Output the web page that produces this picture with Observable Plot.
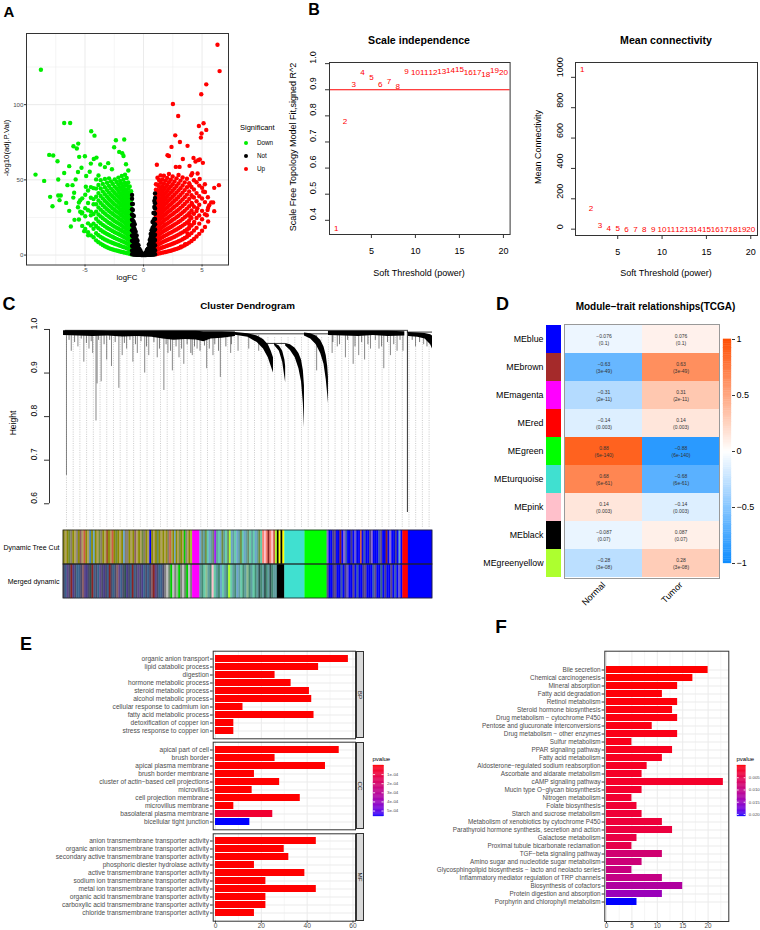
<!DOCTYPE html>
<html><head><meta charset="utf-8">
<script src="https://cdn.jsdelivr.net/npm/d3@7"></script>
<script src="https://cdn.jsdelivr.net/npm/@observablehq/plot@0.6"></script>
<style>
html,body{margin:0;padding:0;background:#fff;}
#root{position:relative;width:760px;height:930px;overflow:hidden;background:#fff;font-family:'Liberation Sans',Arial,Helvetica,sans-serif;}
.lbl{position:absolute;white-space:nowrap;line-height:1;}
</style></head><body><div id="root"></div>
<script>
// ---------------- DATA ----------------
// Panel A: volcano (logFC, -log10 adj.P)
const downOut = [[-8.77,123.2],[-9.23,53.5],[-8.49,49.3],[-8.06,66.6],[-7.72,66.2],[-7.98,38.7],[-7.78,32.5],[-7.35,62.4],[-7.29,50.2],[-7.29,39.6],[-7.07,39.6],[-7.18,36.5],[-6.78,87.8],[-6.27,87.8],[-6.78,54.6],[-6.61,34.7],[-6.35,29.4],[-6.21,19.0],[-6.35,59.1],[-6.5,46.5],[-6.07,46.5],[-5.93,41.4],[-5.99,72.3],[-5.7,70.8],[-5.58,74.1],[-5.5,65.3],[-5.41,36.5],[-5.41,28.8],[-5.27,27.7],[-5.07,15.9],[-4.73,13.1],[-4.93,45.4],[-5.01,65.7],[-4.47,82.3],[-4.19,79.4],[-4.25,63.9],[-4.02,64.8],[-4.5,60.8],[-2.36,76.3],[-3.02,61.1],[-2.51,71.7],[-1.82,67.7],[-1.71,65.9],[-1.65,76.8],[-2.08,68.6],[-5.6,55.2],[-5.3,58.1],[-5.8,50.3],[-4.6,55.4],[-3.7,60.2],[-3.3,58.5],[-2.7,57.1],[-1.3,56.2],[-1.5,60.4],[-5.9,23.4],[-5.6,31.8],[-6.0,38.2],[-4.9,52.6]];
const downCols = [
[-1.06,[0.5,2.6,5.2,7.8,10.4,13.3,16.1,19,21.8,24.9,27.7,30.6,33.4,36.5,39.3,42.4]],
[-1.18,[0.9,3.4,6.3,9.1,12.2,14.9,17.8,20.7,23.6,26.4,29.5,32.3,35.2,38.4,41.7,45.6]],
[-1.31,[1.1,4.2,7.1,10.3,13.1,16.2,19.4,22.1,25.3,28.2,31.1,34.3,37.4,40.6,44.1,48.2]],
[-1.44,[1.4,4.6,7.9,10.8,14.1,17.2,20.2,23.4,26.5,29.3,32.6,35.8,38.7,42.3,46.5,51.2]],
[-1.58,[1.6,5.1,8.3,11.7,14.8,18.1,21.3,24.4,27.6,30.7,33.9,37.1,40.4,43.8,47.9,53.4]],
[-1.72,[1.9,5.4,8.9,12.2,15.6,18.7,22.1,25.3,28.5,31.8,35.1,38.3,41.9,45.6,50.1]],
[-1.86,[2.1,5.8,9.3,12.8,16.2,19.6,22.9,26.3,29.6,32.9,36.4,39.8,43.4,47.3,52.6]],
[-2.0,[2.4,6.2,9.8,13.4,16.8,20.3,23.7,27.1,30.5,34.0,37.5,41.1,44.9,49.2]],
[-2.15,[2.7,6.7,10.3,14.0,17.5,21.1,24.6,28.1,31.6,35.2,38.8,42.6,46.7,51.5]],
[-2.3,[3.0,7.1,10.8,14.6,18.2,21.8,25.4,29.0,32.6,36.3,40.0,44.1,48.6]],
[-2.46,[3.3,7.5,11.4,15.2,18.9,22.6,26.3,30.0,33.7,37.5,41.3,45.5,50.3]],
[-2.62,[3.7,8.0,12.0,15.9,19.7,23.5,27.3,31.0,34.8,38.7,42.7,47.2]],
[-2.78,[4.1,8.5,12.6,16.6,20.5,24.4,28.2,32.1,36.0,40.0,44.2,48.9]],
[-2.95,[4.6,9.1,13.3,17.4,21.4,25.4,29.3,33.3,37.3,41.5,46.0,51.0]],
[-3.12,[5.2,9.7,14.0,18.2,22.3,26.4,30.5,34.6,38.8,43.2,48.1]],
[-3.3,[5.9,10.4,14.8,19.1,23.4,27.6,31.8,36.0,40.4,45.1,50.6]],
[-3.48,[6.7,11.2,15.7,20.1,24.5,28.8,33.2,37.6,42.2,47.3]],
[-3.66,[7.6,12.1,16.7,21.2,25.7,30.2,34.7,39.3,44.3,49.8]],
[-3.85,[8.6,13.2,17.8,22.4,27.0,31.6,36.3,41.2,46.6,52.9]],
[-4.05,[9.8,14.5,19.3,24.1,28.9,33.8,38.8,44.2,50.3]],
[-4.27,[11.8,17.5,20.9,27.3,33.8,37.2,44.5]],
[-4.5,[13.1,19.7,26.4,28.9,38.1,45.2]],
[-4.74,[15.2,21.1,29.8,34.6,42.9]],
[-4.98,[17.3,25.8,31.2,40.1]],
[-5.24,[19.4,28.3,37.7]],
[-5.52,[23.6,34.9]]];
const upOut = [[6.32,139.8],[6.5,122.3],[5.36,113.5],[4.93,106.9],[2.51,100.4],[2.96,92.5],[5.13,87.6],[4.73,85.8],[5.36,83.2],[4.96,80.8],[4.9,78.1],[2.71,79.6],[3.11,75.2],[2.39,71.9],[3.76,72.6],[2.05,66.4],[2.17,65.9],[4.27,64.6],[4.67,63.1],[4.81,63.5],[4.44,62.2],[5.07,61.3],[1.14,60.0],[2.76,58.6],[3.08,58.6],[3.36,63.9],[3.93,59.3],[4.16,54.4],[4.07,53.1],[4.62,54.2],[5.24,47.1],[6.44,46.5],[6.04,44.7],[3.96,46.5],[4.19,38.7],[4.16,33.8],[5.78,35.0],[5.95,35.0],[5.61,33.2],[5.47,29.9],[5.41,26.5],[6.04,29.2],[4.25,27.7],[3.99,25.4],[3.87,17.7],[3.76,14.4],[3.56,7.3],[3.19,5.5],[3.9,20.6],[4.33,22.1],[5.1,42.3],[4.8,50.6],[5.5,38.4],[4.6,31.2]];
const upCols = [
[1.06,[0.5,2.7,5.4,8.2,11.1,13.9,16.8,19.7,22.6,25.5,28.4,31.3,34.2,37.2,40.3,43.5,47.1]],
[1.19,[0.9,3.5,6.4,9.4,12.4,15.4,18.4,21.4,24.4,27.4,30.4,33.5,36.6,39.8,43.1,46.8,51.4]],
[1.32,[1.1,4.1,7.3,10.4,13.5,16.6,19.7,22.8,25.9,29.0,32.1,35.3,38.5,41.9,45.6,49.9]],
[1.46,[1.3,4.6,7.9,11.2,14.4,17.7,20.9,24.1,27.3,30.5,33.7,37.0,40.4,44.0,48.1,53.0]],
[1.6,[1.6,5.0,8.5,11.9,15.3,18.6,21.9,25.2,28.5,31.8,35.1,38.5,42.0,45.8,50.2]],
[1.74,[1.8,5.4,9.0,12.5,16.0,19.4,22.8,26.2,29.6,33.0,36.4,39.9,43.6,47.6,52.7]],
[1.88,[2.0,5.8,9.5,13.1,16.7,20.2,23.7,27.2,30.7,34.2,37.7,41.3,45.2,49.6]],
[2.02,[2.3,6.2,10.0,13.7,17.3,20.9,24.5,28.1,31.7,35.3,38.9,42.6,46.6,51.3]],
[2.17,[2.6,6.6,10.5,14.3,18.0,21.7,25.4,29.1,32.8,36.5,40.2,44.1,48.4,53.9]],
[2.33,[2.9,7.0,11.0,14.9,18.7,22.5,26.3,30.0,33.8,37.6,41.5,45.6,50.1]],
[2.49,[3.3,7.5,11.6,15.6,19.5,23.4,27.2,31.1,34.9,38.8,42.8,47.1,52.2]],
[2.65,[3.7,8.0,12.2,16.3,20.3,24.2,28.2,32.1,36.1,40.1,44.3,48.9]],
[2.82,[4.1,8.6,12.9,17.0,21.1,25.2,29.2,33.2,37.3,41.5,45.9,51.0]],
[2.99,[4.6,9.2,13.6,17.8,22.0,26.1,30.2,34.4,38.6,42.9,47.6,53.2]],
[3.16,[5.1,9.8,14.3,18.7,22.9,27.2,31.4,35.6,40.0,44.5,49.5]],
[3.34,[5.8,10.5,15.1,19.6,24.0,28.3,32.6,37.0,41.5,46.3,51.6]],
[3.52,[6.5,11.3,16.0,20.6,25.1,29.5,34.0,38.5,43.2,48.3]],
[3.71,[7.3,12.2,17.0,21.7,26.3,30.9,35.5,40.2,45.1,50.7]],
[3.9,[8.3,13.3,18.2,23.0,27.8,32.5,37.3,42.3,47.8]],
[4.1,[9.4,14.6,19.7,24.7,29.6,34.6,39.8,45.3]],
[4.31,[10.7,16.3,21.2,27.4,32.1,38.3,43.6,49.7]],
[4.53,[12.3,18.1,24.6,29.3,35.8,41.2,48.4]],
[4.76,[14.1,20.9,26.3,33.5,39.1,46.2]],
[5.0,[16.2,23.8,29.4,37.6,44.8]],
[5.25,[18.7,27.1,35.2,41.9]],
[5.52,[22.3,31.5]]];
const notCols = [
[-0.98,[0.6,3,6,9.5,13,16.5,20,23.5,27,30.5,34,37.5,40]],
[-0.91,[0.5,3,6,9,12.5,16,19.5,23,26.5,30,34]],
[-0.83,[0.4,2.5,5.5,8.5,11.5,15,18.5,22,26]],
[-0.75,[0.3,2,4.5,7.5,10.5,13.5,17,20.5]],
[-0.67,[0.3,1.8,4,6.5,9,12,15.5]],
[-0.59,[0.2,1.5,3.5,5.5,8,10.5,13]],
[-0.51,[0.2,1.3,3,5,7,9.5]],
[-0.43,[0.1,1.1,2.5,4.2,6.5]],
[-0.35,[0.1,0.9,2.2,4]],
[-0.27,[0.1,0.8,1.8,3]],
[-0.19,[0.05,0.6,1.5]],
[-0.11,[0.05,0.5]],
[-0.03,[0.02,0.2]],
[0.05,[0.03,0.3]],
[0.13,[0.05,0.6,1.2]],
[0.21,[0.08,0.8,1.9]],
[0.29,[0.1,1,2.2,3.4]],
[0.37,[0.1,1,2.4,4.2]],
[0.45,[0.15,1.2,2.8,4.6,7]],
[0.53,[0.2,1.4,3.2,5.2,7.6,10]],
[0.61,[0.2,1.6,3.6,6,8.6,11.5,14]],
[0.69,[0.3,2,4.2,6.8,9.6,12.8,16.5]],
[0.77,[0.3,2.2,4.8,7.8,11,14.5,18,22]],
[0.85,[0.4,2.6,5.6,8.8,12,15.5,19,23,28]],
[0.92,[0.5,3,6.2,9.5,13,16.5,20,24,28,32,36]],
[0.98,[0.6,3.2,6.5,10,13.5,17,20.5,24,27.5,31,34.5,38,41]]];
const sigGroups = ["Down","Not","Up"];
const sigColors = ["#00EE00","#000000","#FF0000"];

// Panel B: soft threshold
const powers = [1,2,3,4,5,6,7,8,9,10,11,12,13,14,15,16,17,18,19,20];
const sftR2 = [0.37,0.78,0.922,0.966,0.946,0.922,0.932,0.913,0.972,0.968,0.968,0.968,0.969,0.973,0.979,0.965,0.966,0.96,0.973,0.967];
const meanK = [1055,137,27,8,3,1.6,1.1,0.8,0.6,0.5,0.4,0.35,0.3,0.25,0.2,0.18,0.15,0.13,0.11,0.1];
const sftCut = 0.9;

// Panel C: dendrogram (leaf index 0..1000, height)
const dendroLong = [[8,0.665],[21,0.95],[39,0.96],[55,0.925],[69,0.955],[79,0.945],[88,0.79],[91,0.875],[102,0.88],[117,0.93],[130,0.915],[150,0.865],[159,0.94],[171,0.955],[188,0.925],[200,0.945],[220,0.9],[231,0.94],[254,0.935],[272,0.86],[283,0.945],[295,0.905],[313,0.935],[326,0.92],[349,0.94],[362,0.955],[388,0.91],[405,0.94],[425,0.89],[453,0.945],[473,0.95],[502,0.955],[529,0.95],[686,0.905],[728,0.945],[742,0.96],[764,0.935],[785,0.92],[800,0.94],[816,0.93],[832,0.955],[855,0.955],[868,0.91],[886,0.94],[904,0.95],[920,0.95],[954,0.96],[976,0.965]];
const dendroShort = [[15,0.975],[30,0.97],[48,0.978],[62,0.968],[75,0.972],[95,0.975],[110,0.965],[125,0.975],[140,0.97],[165,0.968],[180,0.975],[195,0.965],[210,0.972],[225,0.96],[245,0.97],[260,0.955],[278,0.965],[290,0.95],[305,0.96],[320,0.955],[335,0.965],[345,0.945],[355,0.96],[370,0.95],[382,0.962],[395,0.955],[410,0.965],[420,0.95],[440,0.96],[455,0.965],[730,0.97],[748,0.965],[770,0.975],[790,0.96],[808,0.97],[825,0.965],[845,0.975],[862,0.96],[878,0.97],[895,0.965],[912,0.975],[945,0.975],[965,0.97],[985,0.96]];
const combLeft = [[0,0.997,0.986],[40,0.997,0.985],[80,0.997,0.984],[120,0.996,0.985],[160,0.996,0.983],[200,0.996,0.984],[240,0.996,0.982],[270,0.996,0.978],[300,0.996,0.975],[330,0.996,0.977],[360,0.996,0.976],[380,0.995,0.972],[400,0.995,0.978],[430,0.995,0.98],[466,0.994,0.984]];
const combRight = [[718,0.996,0.986],[760,0.996,0.985],[800,0.996,0.984],[840,0.996,0.986],[880,0.996,0.984],[925,0.995,0.985]];
const combBlue = [[935,0.993,0.984],[960,0.992,0.982],[980,0.991,0.978],[995,0.988,0.965],[1000,0.985,0.955]];
const sweepA = [[466,0.993,0.987],[500,0.99,0.982],[525,0.985,0.97],[542,0.977,0.955],[555,0.965,0.935],[563,0.95,0.915],[569,0.935,0.9]];
const sweepB = [[572,0.968,0.963],[585,0.962,0.95],[594,0.95,0.925],[600,0.93,0.89],[602,0.915,0.878]];
const sweepC = [[602,0.968,0.962],[615,0.965,0.952],[628,0.957,0.935],[638,0.945,0.91],[645,0.93,0.88],[650,0.905,0.83],[653,0.87,0.775]];
const sweepD = [[653,0.992,0.985],[670,0.99,0.978],[685,0.985,0.965],[697,0.975,0.945],[706,0.96,0.92],[712,0.94,0.885],[716,0.915,0.85],[718,0.89,0.83]];
const mergeLines = [[5,932,0.998],[466,718,0.99],[547,602,0.968],[932,1000,0.994]];
const redDrop = [[932,0.998,0.58]];
// colour rows (units 0..200), codes mapped below
const stripeCodes = {a:"#8B8B00",b:"#6E8B3D",c:"#8B7D6B",d:"#8B8378",e:"#8B5F65",f:"#A0522D",g:"#698B69",h:"#6CA6CD",i:"#4682B4",j:"#8968CD",k:"#483D8B",l:"#0000EE",m:"#9ACD32",n:"#CD5B45",o:"#B0A060",p:"#EECFA1",q:"#7F7F7F",r:"#00CD00",M:"#FF00FF",P:"#A020F0",Y:"#ADFF2F",T:"#40E0D0",G:"#00FF00",B:"#0000FF",R:"#FF0000",K:"#000000",y:"#FFFF00",s:"#FA8072",S:"#FFC0CB",t:"#5F9EA0",u:"#66CDAA",v:"#458B74",w:"#3A5F8B",x:"#5D478B",z:"#36648B",L:"#8B2323",D:"#2F4F4F",E:"#4A4A6A",F:"#BEBEBE",H:"#8FBC8F",I:"#3D59AB",J:"#6A5ACD",N:"#B22222",O:"#8B4513"};
const rowNames = ["Dynamic Tree Cut","Merged dynamic"];
const dynSegs = [[0,55,"aoabcaodaeonaoiahaobcaofaonabaoahcdaoaeoaobcaolaoagaoa"],[55,70,"oacnoahaobaordoam"],[70,74,"M"],[74,108,"hgtbuhtgPtuhbtugYhtuhtbuhtgutuhtbu"],[108,115,"sSsLsSn"],[115,116,"Y"],[116,117,"K"],[117,118,"y"],[118,119,"K"],[119,120,"y"],[120,131,"T"],[131,143,"G"],[143,184,"jlBkxBlLBjIBlkBJlBnBIlBkjBlBIxBlLBjBlkBhB"],[184,187,"R"],[187,200,"B"]];
const mergeSegs = [[0,55,"EwxELkEzwEexkEDLwEzxEkEwLEzEexwEDkEzLwExEkzEwEeLxEzwE"],[55,70,"qFgrFqHrqFgrFq"],[70,74,"M"],[74,104,"tvuHtvSutvhutvYutvhtuvtHvtu"],[104,116,"vtDvtDvtDvtt"],[116,120,"K"],[120,131,"T"],[131,143,"G"],[143,184,"xlBkxBlIBkJBlxBIlBkxBlBIxBlzBkBlxBIBJB"],[184,187,"R"],[187,200,"B"]];

// Panel D: module-trait
const modules = ["MEblue","MEbrown","MEmagenta","MEred","MEgreen","MEturquoise","MEpink","MEblack","MEgreenyellow"];
const moduleColors = ["#0000FF","#A52A2A","#FF00FF","#FF0000","#00FF00","#40E0D0","#FFC0CB","#000000","#ADFF2F"];
const traits = ["Normal","Tumor"];
const corNormal = [-0.076,-0.63,-0.31,-0.14,0.88,0.68,0.14,-0.087,-0.28];
const corTumor = [0.076,0.63,0.31,0.14,-0.88,-0.68,-0.14,0.087,0.28];
const corP = ["0.1","3e-49","2e-11","0.003","6e-140","6e-61","0.003","0.07","3e-08"];
const corTicks = [-1,-0.5,0,0.5,1];

// Panel E: GO enrichment
const bpTerms = ["organic anion transport","lipid catabolic process","digestion","hormone metabolic process","steroid metabolic process","alcohol metabolic process","cellular response to cadmium ion","fatty acid metabolic process","detoxification of copper ion","stress response to copper ion"];
const bpCounts = [58,45,26,33,41,42,12,43,8,8];
const bpP = [1e-20,1e-16,1e-14,1e-12,1e-11,1e-10,1e-9,1e-9,1e-8,1e-8];
const ccTerms = ["apical part of cell","brush border","apical plasma membrane","brush border membrane","cluster of actin\u2212based cell projections","microvillus","cell projection membrane","microvillus membrane","basolateral plasma membrane","bicellular tight junction"];
const ccCounts = [54,26,48,17,28,16,37,8,25,15];
const ccP = [1e-18,1e-15,1e-14,1e-12,1e-10,1e-9,1e-8,1e-7,7e-5,5.6e-4];
const mfTerms = ["anion transmembrane transporter activity","organic anion transmembrane transporter activity","secondary active transmembrane transporter activity","phosphoric diester hydrolase activity","active transmembrane transporter activity","sodium ion transmembrane transporter activity","metal ion transmembrane transporter activity","organic acid transmembrane transporter activity","carboxylic acid transmembrane transporter activity","chloride transmembrane transporter activity"];
const mfCounts = [44,30,32,17,39,22,44,22,22,17];
const mfP = [1e-15,1e-13,1e-12,1e-11,1e-10,1e-9,1e-9,1e-8,1e-8,1e-7];
const eTicks = [1e-4,2e-4,3e-4,4e-4,5e-4];

// Panel F: KEGG enrichment
const fTerms = ["Bile secretion","Chemical carcinogenesis","Mineral absorption","Fatty acid degradation","Retinol metabolism","Steroid hormone biosynthesis","Drug metabolism \u2212 cytochrome P450","Pentose and glucuronate interconversions","Drug metabolism \u2212 other enzymes","Sulfur metabolism","PPAR signaling pathway","Fatty acid metabolism","Aldosterone\u2212regulated sodium reabsorption","Ascorbate and aldarate metabolism","cAMP signaling pathway","Mucin type O\u2212glycan biosynthesis","Nitrogen metabolism","Folate biosynthesis","Starch and sucrose metabolism","Metabolism of xenobiotics by cytochrome P450","Parathyroid hormone synthesis, secretion and action","Galactose metabolism","Proximal tubule bicarbonate reclamation","TGF\u2212beta signaling pathway","Amino sugar and nucleotide sugar metabolism","Glycosphingolipid biosynthesis \u2212 lacto and neolacto series","Inflammatory mediator regulation of TRP channels","Biosynthesis of cofactors","Protein digestion and absorption","Porphyrin and chlorophyll metabolism"];
const fCounts = [20,17,14,11,14,13,14,9,14,5,13,11,8,7,23,7,5,6,7,11,13,6,5,11,7,5,11,15,11,6];
const fP = [0.00002,0.00005,0.0002,0.0003,0.0004,0.0005,0.0006,0.0008,0.0009,0.0011,0.0013,0.0015,0.0017,0.0019,0.0021,0.0024,0.0027,0.0029,0.0031,0.0034,0.0037,0.0042,0.0047,0.0082,0.0088,0.0094,0.0100,0.0125,0.0148,0.0208];
const fTicks = [0.005,0.010,0.015,0.020];

// ---------------- HELPERS ----------------
const FONT = "'Liberation Sans', Arial, Helvetica, sans-serif";
const root = document.getElementById("root");
function S(size, color) { return {fontFamily: FONT, fontSize: size + "px", color: color, background: "none", overflow: "visible", maxWidth: "none"}; }
function place(svg, x, y) {
  const w = document.createElement("div");
  w.style.cssText = `position:absolute;left:${x}px;top:${y}px;line-height:0;`;
  w.appendChild(svg); root.appendChild(w);
}
function txt(s, x, y, o = {}) {
  const size = o.size || 8;
  const d = document.createElement("div");
  d.className = "lbl"; d.textContent = s;
  d.style.left = x + "px"; d.style.top = y + "px"; d.style.fontSize = size + "px";
  d.style.fontWeight = o.weight || "normal"; d.style.color = o.color || "#000";
  const tx = o.anchor === "start" ? "0" : o.anchor === "end" ? "-100%" : "-50%";
  d.style.transform = `translate(${tx},-50%)` + (o.rotate ? ` rotate(${o.rotate}deg)` : "");
  root.appendChild(d);
}
function dotDiv(x, y, r, color) {
  const d = document.createElement("div");
  d.style.cssText = `position:absolute;left:${x - r}px;top:${y - r}px;width:${2 * r}px;height:${2 * r}px;border-radius:50%;background:${color}`;
  root.appendChild(d);
}
function strip(label, top, height) {
  const d = document.createElement("div");
  d.style.cssText = `position:absolute;left:355.7px;top:${top}px;width:8.6px;height:${height}px;background:#D9D9D9;border:0.6px solid #333;box-sizing:border-box;`;
  root.appendChild(d);
  txt(label, 360, top + height / 2, {size: 6.2, rotate: 90, color: "#1A1A1A"});
}

// ---------------- PANEL A ----------------
const colorOf = g => sigColors[sigGroups.indexOf(g)];
const volc = [
  ...downOut.map(([x, y]) => ({x, y, g: "Down"})),
  ...downCols.flatMap(([x, ys]) => ys.map(y => ({x, y, g: "Down"}))),
  ...upOut.map(([x, y]) => ({x, y, g: "Up"})),
  ...upCols.flatMap(([x, ys]) => ys.map(y => ({x, y, g: "Up"}))),
  ...notCols.flatMap(([x, ys]) => ys.map(y => ({x, y, g: "Not"})))
];
place(Plot.plot({
  width: 235, height: 285, marginLeft: 26, marginRight: 7, marginTop: 33, marginBottom: 20.5,
  style: S(6.2, "#4D4D4D"),
  x: {domain: [-10.0, 7.26]}, y: {domain: [-6.6, 147.3]},
  marks: [
    Plot.ruleX([-7.5, -2.5, 2.5], {stroke: "#EBEBEB", strokeWidth: 0.5}),
    Plot.ruleY([25, 75, 125], {stroke: "#EBEBEB", strokeWidth: 0.5}),
    Plot.ruleX([-5, 0, 5], {stroke: "#EBEBEB", strokeWidth: 1}),
    Plot.ruleY([0, 50, 100], {stroke: "#EBEBEB", strokeWidth: 1}),
    Plot.dot(volc, {x: "x", y: "y", r: 2.2, fill: d => colorOf(d.g), stroke: null}),
    Plot.frame({stroke: "#333"}),
    Plot.axisX({ticks: [-5, 0, 5], tickSize: 2, tickPadding: 0.6, tickFormat: d => String(d), stroke: "#333", label: null}),
    Plot.axisY({ticks: [0, 50, 100], tickSize: 2, tickPadding: 1, tickFormat: d => String(d), stroke: "#333", label: null})
  ]
}), 0, 0);
txt("A", 9, 11, {size: 15, weight: "bold"});
txt("logFC", 127, 277.5, {size: 7.8});
txt("-log10(adj.P.Val)", 7, 148, {size: 7.8, rotate: -90});
txt("Significant", 240, 127.7, {size: 7.5, anchor: "start"});
[143.3, 155.7, 169.3].forEach((y, i) => {
  dotDiv(246, y, 2, sigColors[i]);
  txt(sigGroups[i], 257, y, {size: 6.3, anchor: "start"});
});

// ---------------- PANEL B ----------------
const r2Ticks = [0.4, 0.5, 0.6, 0.7, 0.8, 0.9, 1.0];
place(Plot.plot({
  width: 240, height: 285, marginLeft: 49, marginRight: 10.4, marginTop: 62, marginBottom: 51,
  style: S(9, "#000"),
  x: {domain: [0.24, 20.76]}, y: {domain: [0.3456, 1.0044]},
  marks: [
    Plot.ruleY([sftCut], {stroke: "#FF0000", strokeWidth: 1}),
    Plot.text(powers, {x: d => d, y: (d, i) => sftR2[i], text: d => String(d), fill: "#FF0000", fontSize: 8.1}),
    Plot.frame({stroke: "#333"}),
    Plot.axisX({ticks: [5, 10, 15, 20], tickSize: 4, tickPadding: 9, tickFormat: d => String(d), stroke: "#333", label: null}),
    Plot.axisY({ticks: r2Ticks, tickSize: 4, tickFormat: () => "", stroke: "#333", label: null}),
    Plot.text(r2Ticks, {y: d => d, frameAnchor: "left", dx: -16, rotate: -90, text: d => d.toFixed(1), fontSize: 9})
  ]
}), 280, 0);
const kTicks = [0, 200, 400, 600, 800, 1000];
place(Plot.plot({
  width: 240, height: 285, marginLeft: 55, marginRight: 3, marginTop: 62, marginBottom: 50,
  style: S(9, "#000"),
  x: {domain: [0.24, 20.76]}, y: {domain: [-41.7, 1097.7]},
  marks: [
    Plot.text(powers, {x: d => d, y: (d, i) => meanK[i], text: d => String(d), fill: "#FF0000", fontSize: 8.1}),
    Plot.frame({stroke: "#333"}),
    Plot.axisX({ticks: [5, 10, 15, 20], tickSize: 4, tickPadding: 9, tickFormat: d => String(d), stroke: "#333", label: null}),
    Plot.axisY({ticks: kTicks, tickSize: 4, tickFormat: () => "", stroke: "#333", label: null}),
    Plot.text(kTicks, {y: d => d, frameAnchor: "left", dx: -15.7, rotate: -90, text: d => String(d), fontSize: 9})
  ]
}), 520, 0);
txt("B", 314, 9.5, {size: 16, weight: "bold"});
txt("Scale independence", 419, 40, {size: 10.6, weight: "bold"});
txt("Mean connectivity", 666, 40, {size: 10.6, weight: "bold"});
txt("Scale Free Topology Model Fit,signed R^2", 293, 147, {size: 9, rotate: -90});
txt("Soft Threshold (power)", 419, 273, {size: 9});
txt("Mean Connectivity", 538, 147, {size: 9, rotate: -90});
txt("Soft Threshold (power)", 666, 273, {size: 9});

// ---------------- PANEL C ----------------
const hTicks = [0.6, 0.7, 0.8, 0.9, 1.0];
const guides = d3.range(8, 1000, 18.2);
const areaOpts = arr => [arr, {x: d => d[0], y1: d => d[2], y2: d => d[1], fill: "#000", curve: "linear"}];
place(Plot.plot({
  width: 440, height: 240, marginLeft: 49, marginRight: 8, marginTop: 36.8, marginBottom: 3.2,
  style: S(8.5, "#000"),
  x: {domain: [-38, 1000], axis: null}, y: {domain: [0.546, 1.005]},
  marks: [
    Plot.ruleX(guides, {y1: 0.546, y2: 0.982, stroke: "#A8A8A8", strokeWidth: 0.6, strokeDasharray: "1,1.3"}),
    Plot.ruleX(dendroLong, {x: d => d[0], y1: d => d[1], y2: 0.986, stroke: "#555", strokeWidth: 0.7}),
    Plot.ruleX(dendroShort, {x: d => d[0], y1: d => d[1], y2: 0.986, stroke: "#222", strokeWidth: 0.6}),
    Plot.areaY(...areaOpts(combLeft)),
    Plot.areaY(...areaOpts(combRight)),
    Plot.areaY(...areaOpts(combBlue)),
    Plot.areaY(...areaOpts(sweepA)),
    Plot.areaY(...areaOpts(sweepB)),
    Plot.areaY(...areaOpts(sweepC)),
    Plot.areaY(...areaOpts(sweepD)),
    Plot.ruleY(mergeLines, {x1: d => d[0], x2: d => d[1], y: d => d[2], stroke: "#000", strokeWidth: 0.8}),
    Plot.ruleX(redDrop, {x: d => d[0], y1: d => d[1], y2: d => d[2], stroke: "#000", strokeWidth: 0.8}),
    Plot.ruleX([-38], {y1: 0.6, y2: 1.0, stroke: "#333"}),
    Plot.axisY({ticks: hTicks, tickSize: 5, tickFormat: () => "", stroke: "#333", label: null}),
    Plot.text(hTicks, {y: d => d, frameAnchor: "left", dx: -15.7, rotate: -90, text: d => d.toFixed(1), fontSize: 8.5})
  ]
}), 0, 290);
const makeStripes = (segs, row) => segs.flatMap(([a, b, codes]) => [...codes].map((c, i) => ({
  row, x1: a + (b - a) * i / codes.length, x2: a + (b - a) * (i + 1) / codes.length, color: stripeCodes[c]
})));
const stripes = [...makeStripes(dynSegs, rowNames[0]), ...makeStripes(mergeSegs, rowNames[1])];
place(Plot.plot({
  width: 440, height: 72, marginLeft: 63, marginRight: 8, marginTop: 1, marginBottom: 2,
  style: S(7, "#000"),
  x: {domain: [0, 200], axis: null}, y: {domain: rowNames, padding: 0},
  marks: [
    Plot.barX(stripes, {x1: "x1", x2: "x2", y: "row", fill: "color", stroke: "color", strokeWidth: 0.3}),
    Plot.barX(rowNames, {x1: 0, x2: 200, y: d => d, fill: "none", stroke: "#222", strokeWidth: 0.8}),
    Plot.axisY({tickSize: 0, tickPadding: 4, label: null})
  ]
}), 0, 528);
txt("C", 9, 303.5, {size: 18, weight: "bold"});
txt("Cluster Dendrogram", 247.5, 305.7, {size: 9.8, weight: "bold"});
txt("Height", 13, 423, {size: 8.5, rotate: -90});

// ---------------- PANEL D ----------------
const corrColor = {type: "linear", domain: [-1, 0, 1], range: ["#0D8CFF", "#FFFFFF", "#FF4D00"]};
const cells = modules.flatMap((m, i) => [
  {module: m, trait: traits[0], r: corNormal[i], p: corP[i]},
  {module: m, trait: traits[1], r: corTumor[i], p: corP[i]}
]);
const fmtR = v => (v < 0 ? "\u2212" : "") + Math.abs(v);
place(Plot.plot({
  width: 84, height: 290, marginLeft: 66, marginRight: 3, marginTop: 14, marginBottom: 22,
  style: S(8.8, "#000"),
  x: {domain: [0, 1], axis: null}, y: {domain: modules, padding: 0},
  marks: [
    Plot.barX(modules, {x1: 0, x2: 1, y: d => d, fill: (d, i) => moduleColors[i]}),
    Plot.axisY({tickSize: 0, tickPadding: 3, label: null})
  ]
}), 480, 310);
place(Plot.plot({
  width: 155, height: 290, marginLeft: 0, marginRight: 0, marginTop: 14, marginBottom: 22,
  style: S(9, "#000"),
  x: {domain: traits, padding: 0}, y: {domain: modules, padding: 0, axis: null},
  color: corrColor,
  marks: [
    Plot.cell(cells, {x: "trait", y: "module", fill: "r", inset: 0}),
    Plot.text(cells, {x: "trait", y: "module", text: d => `${fmtR(d.r)}\n(${d.p})`, fontSize: 5, lineHeight: 1.25, fill: "#333"}),
    Plot.frame({stroke: "#999"}),
    Plot.axisX({tickRotate: -45, tickSize: 0, tickPadding: 5, label: null})
  ]
}), 564, 310);
const corStops = d3.range(-1, 1, 0.02);
place(Plot.plot({
  width: 44, height: 245, marginLeft: 7, marginRight: 29, marginTop: 9, marginBottom: 12,
  style: S(9, "#000"),
  x: {domain: [0, 1], axis: null}, y: {domain: [-1, 1]},
  color: corrColor,
  marks: [
    Plot.rect(corStops, {x1: 0, x2: 1, y1: d => d, y2: d => d + 0.021, fill: d => d + 0.01, stroke: d => d + 0.01, strokeWidth: 0.3}),
    Plot.axisY({anchor: "right", ticks: corTicks, tickSize: 3, tickPadding: 2, tickFormat: d => fmtR(d), stroke: "#333", label: null})
  ]
}), 716, 330);
txt("D", 502.5, 304, {size: 18, weight: "bold"});
txt("Module\u2212trait relationships(TCGA)", 655.5, 307.3, {size: 10, weight: "bold"});

// ---------------- PANEL E ----------------
const eDomain = d3.extent([...bpP, ...ccP, ...mfP]);
const eColor = {type: "linear", domain: eDomain, range: ["red", "blue"], interpolate: d3.interpolateLab};
function eFacet(terms, counts, ps, height, mt, mb, showX) {
  const data = terms.map((t, i) => ({term: t, count: counts[i], p: ps[i]}));
  const marks = [
    Plot.ruleX([10, 30, 50], {stroke: "#EBEBEB", strokeWidth: 0.5}),
    Plot.ruleX([0, 20, 40, 60], {stroke: "#EBEBEB", strokeWidth: 1}),
    Plot.ruleY(terms, {y: d => d, stroke: "#EBEBEB", strokeWidth: 1}),
    Plot.barX(data, {x: "count", y: "term", fill: "p"}),
    Plot.frame({stroke: "#333"}),
    Plot.axisY({tickSize: 2.7, tickPadding: 1.5, stroke: "#333", label: null})
  ];
  if (showX) marks.push(Plot.axisX({ticks: [0, 20, 40, 60], tickSize: 2, tickPadding: 0.3, stroke: "#333", label: null}));
  return Plot.plot({
    width: 400, height, marginLeft: 212.7, marginRight: 45, marginTop: mt, marginBottom: mb,
    style: S(6.6, "#4D4D4D"),
    x: showX ? {domain: [-1.0, 61.1]} : {domain: [-1.0, 61.1], axis: null},
    y: {domain: terms, paddingInner: 0.1, paddingOuter: 0.15},
    color: eColor, marks
  });
}
place(eFacet(bpTerms, bpCounts, bpP, 89, 0.7, 0.7, false), 0, 650);
place(eFacet(ccTerms, ccCounts, ccP, 89, 0.7, 0.7, false), 0, 741);
place(eFacet(mfTerms, mfCounts, mfP, 97, 0.3, 9.3, true), 0, 833);
strip("BP", 650.7, 87.6);
strip("CC", 741.7, 87.6);
strip("MF", 833.3, 87.4);
txt("E", 26, 643.5, {size: 18, weight: "bold"});

function legendPlot(domain, colorOpts, ticks, fmt, w) {
  const n = 60, step = (domain[1] - domain[0]) / n;
  const stops = d3.range(n).map(i => domain[0] + step * i);
  return Plot.plot({
    width: w + 24, height: 51, marginLeft: 0, marginRight: 24, marginTop: 0, marginBottom: 0,
    style: S(4.4, "#4D4D4D"),
    x: {domain: [0, 1], axis: null}, y: {domain: [domain[1], domain[0]], axis: null},
    color: colorOpts,
    marks: [
      Plot.rect(stops, {x1: 0, x2: 1, y1: d => d, y2: d => d + step * 1.02, fill: d => d + step / 2, stroke: d => d + step / 2, strokeWidth: 0.3}),
      Plot.ruleY(ticks, {x1: 0, x2: 0.2, stroke: "white", strokeWidth: 0.8}),
      Plot.ruleY(ticks, {x1: 0.8, x2: 1, stroke: "white", strokeWidth: 0.8}),
      Plot.text(ticks, {y: d => d, frameAnchor: "right", dx: 3, textAnchor: "start", text: fmt})
    ]
  });
}
place(legendPlot(eDomain, eColor, eTicks, d => `${Math.round(d * 1e4)}e-04`, 10.6), 372.7, 765);
txt("pvalue", 372.5, 759.3, {size: 6, anchor: "start"});

// ---------------- PANEL F ----------------
const fDomain = d3.extent(fP);
const fColor = {type: "linear", domain: fDomain, range: ["red", "blue"], interpolate: d3.interpolateLab};
const fData = fTerms.map((t, i) => ({term: t, count: fCounts[i], p: fP[i]}));
place(Plot.plot({
  width: 380, height: 290, marginLeft: 224.3, marginRight: 31.7, marginTop: 10.7, marginBottom: 9,
  style: S(6.35, "#4D4D4D"),
  x: {domain: [-0.335, 24.07]},
  y: {domain: fTerms, paddingInner: 0.1, paddingOuter: 0.15},
  color: fColor,
  marks: [
    Plot.ruleX([2.5, 7.5, 12.5, 17.5, 22.5], {stroke: "#EBEBEB", strokeWidth: 0.5}),
    Plot.ruleX([0, 5, 10, 15, 20], {stroke: "#EBEBEB", strokeWidth: 1}),
    Plot.ruleY(fTerms, {y: d => d, stroke: "#EBEBEB", strokeWidth: 1}),
    Plot.barX(fData, {x: "count", y: "term", fill: "p"}),
    Plot.frame({stroke: "#333"}),
    Plot.axisY({tickSize: 2.7, tickPadding: 1.5, stroke: "#333", label: null}),
    Plot.axisX({ticks: [0, 5, 10, 15, 20], tickSize: 2, tickPadding: 0.3, stroke: "#333", label: null})
  ]
}), 380, 640);
place(legendPlot(fDomain, fColor, fTicks, d => d.toFixed(3), 8.3), 736.7, 765);
txt("pvalue", 736.5, 759.3, {size: 6, anchor: "start"});
txt("F", 501, 626, {size: 19, weight: "bold"});
</script></body></html>
